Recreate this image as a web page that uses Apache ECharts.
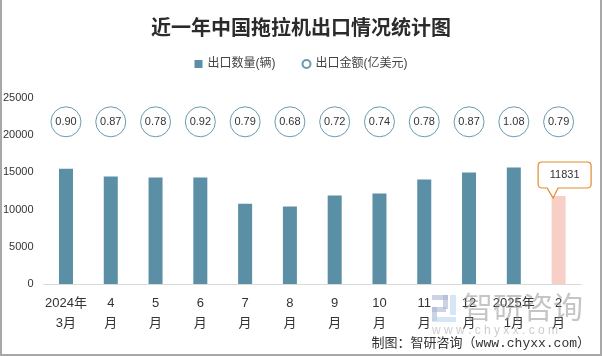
<!DOCTYPE html>
<html>
<head>
<meta charset="utf-8">
<script src="https://cdn.jsdelivr.net/npm/echarts@6/dist/echarts.min.js"></script>
<style>
html,body{margin:0;padding:0;background:#fff;}
#wrap{position:relative;width:602px;height:356px;}
#chart{position:absolute;left:0;top:0;width:602px;height:356px;}
#frame{position:absolute;left:0;top:0;width:602px;height:356px;box-sizing:border-box;border-left:2px solid #a8a8a8;border-right:2px solid #a8a8a8;border-bottom:2px solid #a8a8a8;pointer-events:none;}
</style>
</head>
<body>
<div id="wrap"><div id="chart"></div><div id="frame"></div></div>
<script>
var categories = ['2024年\n3月','4\n月','5\n月','6\n月','7\n月','8\n月','9\n月','10\n月','11\n月','12\n月','2025年\n1月','2\n月'];
var quantity = [15500, 14450, 14300, 14300, 10800, 10400, 11900, 12150, 14050, 15000, 15650, 11831];
var amount = [0.90, 0.87, 0.78, 0.92, 0.79, 0.68, 0.72, 0.74, 0.78, 0.87, 1.08, 0.79];
var yTicks = [0, 5000, 10000, 15000, 20000, 25000];
var CIRCLE_ROW = 21800;
var HIGHLIGHT = quantity.length - 1;

var BAR_COLOR = '#5b8fa5';
var PINK = '#f8cfc6';
var CJK = "'Noto Sans CJK SC'";
var NUM = "'Liberation Sans','Noto Sans CJK SC'";

var chart = echarts.init(document.getElementById('chart'), null, {renderer:'canvas'});
var calloutPath = 'path://M4,0 H49 Q53,0 53,4 V22 Q53,26 49,26 H20 L15,36 L9,26 H4 Q0,26 0,22 V4 Q0,0 4,0 Z';

chart.setOption({
  animation: false,
  backgroundColor: '#fff',
  title: {
    text: '近一年中国拖拉机出口情况统计图',
    left: 'center', top: 12,
    textStyle: {fontFamily: CJK, fontSize: 20, fontWeight: 'bold', color: '#2b2b2b'}
  },
  legend: {
    top: 53, left: 'center',
    itemWidth: 8, itemHeight: 8, itemGap: 26,
    textStyle: {fontFamily: NUM, fontSize: 12, color: '#444'},
    data: [{name:'出口数量(辆)', icon:'rect'}, {name:'出口金额(亿美元)', icon:'circle'}]
  },
  grid: {left: 43, right: 21, top: 98, bottom: 72},
  xAxis: {
    type: 'category', data: categories,
    axisLine: {lineStyle: {color: '#d9d9d9', width: 1}},
    axisTick: {show: false},
    axisLabel: {fontFamily: NUM, fontSize: 13, color: '#333', lineHeight: 20, margin: 9, interval: 0}
  },
  yAxis: {
    type: 'value', min: yTicks[0], max: yTicks[yTicks.length-1], interval: yTicks[1]-yTicks[0],
    axisLine: {show: false}, axisTick: {show: false}, splitLine: {show: false},
    axisLabel: {fontFamily: NUM, fontSize: 11, color: '#333', margin: 10,
                formatter: function(v){ return String(v); }}
  },
  series: [
    {
      name: '出口数量(辆)', type: 'bar', barWidth: 14,
      itemStyle: {color: BAR_COLOR},
      data: quantity.map(function(v, i){ return i === HIGHLIGHT ? {value: v, itemStyle: {color: PINK}} : v; }),
      markPoint: {
        symbol: calloutPath, symbolSize: [53, 36], symbolOffset: [6, -16],
        itemStyle: {color: '#fff', borderColor: '#e8892c', borderWidth: 1},
        label: {show: true, position: 'inside', offset: [0, -5], color: '#333', fontFamily: NUM, fontSize: 11,
                formatter: function(p){ return String(p.value); }},
        data: [{coord: [HIGHLIGHT, quantity[HIGHLIGHT]], value: quantity[HIGHLIGHT]}]
      }
    },
    {
      name: '出口金额(亿美元)', type: 'scatter', symbol: 'circle', symbolSize: 30,
      itemStyle: {color: '#fff', borderColor: '#6a9ab0', borderWidth: 1, opacity: 1},
      label: {show: true, position: 'inside', color: '#333', fontFamily: NUM, fontSize: 11,
              formatter: function(p){ return p.value[2].toFixed(2); }},
      encode: {x: 0, y: 1},
      data: amount.map(function(v, i){ return [i, CIRCLE_ROW, v]; }),
      z: 3
    }
  ],
  graphic: [
    {type:'text', right: 12, top: 337, z: 10,
     style:{text:'制图：智研咨询（www.chyxx.com）', fontFamily:"'Liberation Mono','Noto Sans CJK SC'", fontSize: 13, fill:'#333'}},
    {type:'group', left: 432, top: 295, z: 100, children: [
      {type:'rect', shape:{x:0,y:0,width:16,height:5}, style:{fill:'#aab6d2', opacity:0.6}},
      {type:'rect', shape:{x:11,y:0,width:5,height:14}, style:{fill:'#aab6d2', opacity:0.6}},
      {type:'rect', shape:{x:0,y:12,width:14,height:5}, style:{fill:'#aab6d2', opacity:0.6}},
      {type:'rect', shape:{x:0,y:12,width:5,height:14}, style:{fill:'#aab6d2', opacity:0.6}},
      {type:'rect', shape:{x:18,y:0,width:6,height:20}, style:{fill:'#bcd6ee', opacity:0.6}},
      {type:'rect', shape:{x:0,y:22,width:24,height:5}, style:{fill:'#bcd6ee', opacity:0.6}}
    ]},
    {type:'text', left: 463, top: 292, z: 100,
     style:{text:'智研咨询', fontFamily: CJK, fontSize: 30, fill:'#8c8c8c', opacity: 0.5}},
    {type:'text', left: 432, top: 325, z: 100,
     style:{text:'w w w . c h y x x . c o m', fontFamily: NUM, fontSize: 12, fill:'#9a9a9a', opacity: 0.5}}
  ]
});
</script>
</body>
</html>
